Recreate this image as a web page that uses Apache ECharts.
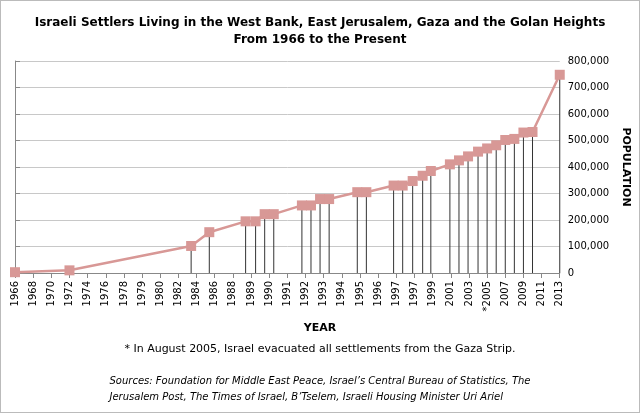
<!DOCTYPE html>
<html>
<head>
<meta charset="utf-8">
<script src="https://cdn.jsdelivr.net/npm/echarts@6/dist/echarts.min.js"></script>
<style>
body{margin:0;background:#fff;}
#chart{width:638px;height:411px;border:1px solid #bbb;}
</style>
</head>
<body>
<div id="chart"></div>
<script>
// tick labels at every 2nd axis step
var tickLabels = ['1966','1968','1970','1972','1974','1976','1978','1979','1980','1982','1984','1986','1988','1989','1990','1991','1992','1993','1994','1995','1996','1997','1997','1999','2001','2003','*2005','2007','2009','2011','2013'];
// point positions on the axis (in axis steps) and population
var pointPos = [0, 6, 19.4, 21.4, 25.4, 26.5, 27.5, 28.5, 31.6, 32.6, 33.6, 34.6, 37.7, 38.7, 41.7, 42.7, 43.8, 44.9, 45.8, 47.9, 48.9, 49.9, 51, 52, 53, 54, 55, 56, 57, 60];
var population = [3000, 10000, 102000, 154000, 195000, 195000, 222000, 222000, 255000, 255000, 279000, 279000, 305000, 305000, 330000, 330000, 347000, 367000, 385000, 410000, 425000, 440000, 458000, 470000, 482000, 502000, 506000, 530000, 532000, 748000];

(function(){
    var chart = echarts.init(document.getElementById('chart'));
    var pts = pointPos.map(function(x, i){ return [x, population[i]]; });
    var drops = pts.slice(2);
    var option = {
        animation: false,
        textStyle: {fontFamily: 'DejaVu Sans'},
        title: {
            text: 'Israeli Settlers Living in the West Bank, East Jerusalem, Gaza and the Golan Heights\nFrom 1966 to the Present',
            left: 'center', top: 8,
            textStyle: {fontSize: 12, fontWeight: 'bold', color: '#000', lineHeight: 17}
        },
        graphic: [
            {type: 'text', left: 'center', top: 322, style: {text: 'YEAR', font: 'bold 11px DejaVu Sans', fill: '#000'}},
            {type: 'text', left: 'center', top: 343, style: {text: '* In August 2005, Israel evacuated all settlements from the Gaza Strip.', font: '11px DejaVu Sans', fill: '#000'}},
            {type: 'text', left: 'center', top: 372, style: {text: 'Sources: Foundation for Middle East Peace, Israel’s Central Bureau of Statistics, The\nJerusalem Post, The Times of Israel, B’Tselem, Israeli Housing Minister Uri Ariel', font: 'italic 10px DejaVu Sans', fill: '#000', align: 'center', lineHeight: 16}}
        ],
        grid: {left: 14, right: 78, top: 60, bottom: 139},
        xAxis: {
            type: 'value', min: 0, max: 60, interval: 2,
            axisLine: {lineStyle: {color: '#888'}},
            axisTick: {show: true, lineStyle: {color: '#888'}},
            splitLine: {show: false},
            axisLabel: {rotate: 90, fontSize: 10, color: '#000', margin: 8,
                formatter: function(v){ return tickLabels[Math.round(v / 2)] || ''; }}
        },
        yAxis: {
            type: 'value', position: 'right', min: 0, max: 800000, interval: 100000,
            name: 'POPULATION', nameLocation: 'middle', nameRotate: -90, nameGap: 56,
            nameTextStyle: {fontWeight: 'bold', fontSize: 11, color: '#000'},
            axisLine: {show: true, lineStyle: {color: '#888'}},
            axisTick: {show: true, lineStyle: {color: '#888'}},
            splitLine: {lineStyle: {color: '#c8c8c8'}},
            axisLabel: {fontSize: 10, color: '#000',
                formatter: function(v){ return v.toLocaleString('en-US'); }}
        },
        series: [
            {
                type: 'bar', data: drops, barWidth: 1, z: 1,
                itemStyle: {color: '#333'}
            },
            {
                type: 'line', data: pts, z: 3,
                symbol: 'rect', symbolSize: 10,
                lineStyle: {color: '#d89896', width: 2.5},
                itemStyle: {color: '#d89896'}
            }
        ]
    };
    chart.setOption(option);
})();
</script>
</body>
</html>
